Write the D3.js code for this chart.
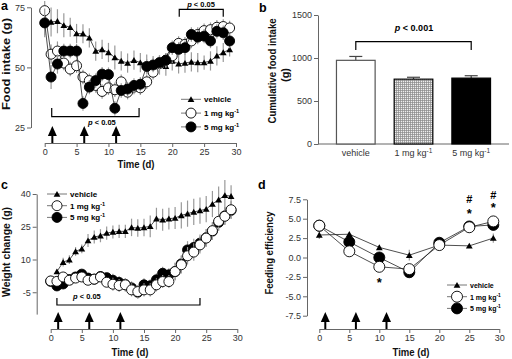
<!DOCTYPE html>
<html><head><meta charset="utf-8">
<script src="https://cdn.jsdelivr.net/npm/d3@7"></script>
<style>body{margin:0;background:#fff} svg{display:block} text{font-family:"Liberation Sans",Arial,sans-serif}</style>
</head><body><svg id="chart" width="512" height="359"></svg>
<script>
// ---------- DATA ----------
const days = [0,1,2,3,4,5,6,7,8,9,10,11,12,13,14,15,16,17,18,19,20,21,22,23,24,25,26,27,28,29];
const days1 = [1,2,3,4,5,6,7,8,9,10,11,12,13,14,15,16,17,18,19,20,21,22,23,24,25,26,27,28,29];
const dosingDays = [1.2, 6.2, 11.2];

// Panel a: food intake (g)
const aVehicle = [68.5,68.9,69.2,67.5,66.7,64.1,64,62.3,56.8,57.5,56.2,54.1,52.7,51.8,53,52,51.4,50.7,51,50.5,52.7,51.5,51.8,52.3,52,52,52.7,54.8,56.2,57.5];
const aVehicleErr = [5,6,5,5,4,4,4,4,4,4,4,5,4,4,4,4,4,4,4,4,4,4,4,4,4,3,4,4,4,3];
const a1mg = [73.6,55.5,56.8,51.8,49.3,50.7,46,44.5,42.5,40,41.5,40.7,44,39.7,41.8,41.5,44,48,51.6,53,54.8,60,59.6,61,63.7,65.3,65.7,66.7,67,66.4];
const a1mgErr = [4,4,4,3,3,3,3,3,3,3,3,3,3,3,3,3,3,3,3,3,3,3,3,3,3,3,3,3,3,3];
const a5mg = [68.5,46,51.4,56.8,56.8,56.8,35,41.8,44.5,47.2,47,33,40.4,41,42.5,43,50.4,51,52,53,58.2,57.5,58.2,63.7,62.6,63,61,65,64.4,61];
const a5mgErr = [6,5,4,3,3,3,3,3,3,3,3,3,3,3,3,3,3,3,3,3,3,3,3,3,3,3,3,3,3,3];

// Panel b: cumulative food intake (g)
const bCategories = ["vehicle","1 mg kg","5 mg kg"];
const bValues = [973, 754, 766];
const bErr = [45, 22, 28];

// Panel c: weight change (g)
const cVehicle = [4.5,8.8,9.9,13.7,14.9,18.7,20.3,20.9,22.1,22.6,22.9,22.9,24.7,24.4,24.7,25.2,28.7,28.2,28.7,29,30.2,31,31.8,32.4,33.1,35.4,37.4,39.4,39];
const cVehicleErr = [1,2,2,2,2,3,3,3,3,3,3,3,4,4,4,5,5,5,5,5,6,6,6,6,6,6,6,7,5];
const c1mg = [0.2,0,2,0.5,1.5,2,0.5,1,2,-0.4,-1.3,-1.9,-1.6,-3.9,-4.7,-3.9,-3.9,-1.6,-0.1,-0.1,4.5,7.6,11.7,13.4,16.7,19.8,23.2,27.5,29.8,32.8];
const c1mgErr = [1,1,2,2,2,2,2,2,2,2,3,3,3,3,3,3,3,3,3,3,4,4,4,4,4,4,4,4,4,4];
const c5mg = [0,-2.1,-1.2,0.8,2,3.3,1.5,1,2.2,1.7,0.5,-0.5,-1.5,-3,-5,-1.6,-2,0.7,3.7,3.0,4.5,8,14.4,15.5,17.5,20,23,27,30,32.5];
const c5mgErr = [1,1,2,2,2,2,2,2,2,2,3,3,3,3,3,3,3,3,3,3,4,4,4,4,4,4,4,4,4,4];

// Panel d: feeding efficiency
const dDays = [0,5,10,15,20,25,29];
const dVehicle = [2.9,3.0,1.3,0.3,1.6,1.5,2.5];
const dVehicleErr = [0.5,0.3,0.3,0.7,0.3,0.2,0.6];
const d1mg = [4.1,0.8,-1.2,-1.5,1.6,3.9,4.65];
const d1mgErr = [0.4,0.5,0.5,0.6,0.4,0.5,0.4];
const d5mg = [4.1,2.0,0.0,-1.9,1.9,4.0,4.2];
const d5mgErr = [0.4,0.4,0.4,0.6,0.4,0.4,0.4];
const dDosingDays = [1, 6.1, 11.2];

const xTicks = [0,5,10,15,20,25,30];

// ---------- DRAW ----------
const svg = d3.select("#chart");
svg.append("rect").attr("width",512).attr("height",359).attr("fill","#fff");
const AX = "#666", TK = "#333";

const defs = svg.append("defs");
const pat = defs.append("pattern").attr("id","grid").attr("patternUnits","userSpaceOnUse").attr("width",2).attr("height",2);
pat.append("rect").attr("width",2).attr("height",2).attr("fill","#eee");
pat.append("path").attr("d","M0,0.5H2M0.5,0V2").attr("stroke","#888").attr("stroke-width",0.7);

function styleAxis(g){
  g.select(".domain").attr("stroke",AX).attr("stroke-width",1);
  g.selectAll(".tick line").attr("stroke",AX);
  g.selectAll(".tick text").attr("fill",TK).attr("font-size",9).attr("font-family","Liberation Sans, Arial, sans-serif");
}
function yAxis(scale, x, ticks, fmt){
  const g = svg.append("g").attr("transform",`translate(${x},0)`)
    .call(d3.axisLeft(scale).tickValues(ticks).tickFormat(fmt).tickSize(4).tickSizeOuter(0).tickPadding(2));
  styleAxis(g);
}
function xAxis(scale, y){
  const g = svg.append("g").attr("transform",`translate(0,${y})`)
    .call(d3.axisBottom(scale).tickValues(xTicks).tickFormat(d=>d).tickSize(4).tickSizeOuter(0).tickPadding(2));
  styleAxis(g);
}
function title(x, y, txt, len, rot, fs){
  const t = svg.append("text").attr("font-weight","bold").attr("font-size",fs||11.5).attr("text-anchor","middle").attr("fill","#111")
    .attr("textLength",len).attr("lengthAdjust","spacingAndGlyphs").text(txt);
  if (rot) t.attr("transform",`translate(${x},${y}) rotate(-90)`); else t.attr("x",x).attr("y",y);
  return t;
}
function letter(x,y,t){ svg.append("text").attr("x",x).attr("y",y).attr("font-weight","bold").attr("font-size",12.5).text(t); }
function arrows(xs, yBase, list){
  list.forEach(d=>{
    const x = xs(d);
    svg.append("line").attr("x1",x).attr("x2",x).attr("y1",yBase).attr("y2",yBase-9).attr("stroke","#000").attr("stroke-width",2);
    svg.append("path").attr("d",`M${x-4.5},${yBase-7}L${x},${yBase-17}L${x+4.5},${yBase-7}Z`).attr("fill","#000");
  });
}
const tri = d3.symbol().type(d3.symbolTriangle).size(20);
function series(xd, yd, ed, xs, ys, kind, r){
  const g = svg.append("g");
  const pts = xd.map((d,i)=>[d, yd[i], ed[i]]);
  g.selectAll("line.e").data(pts).join("line").attr("class","e")
    .attr("x1",p=>xs(p[0])).attr("x2",p=>xs(p[0])).attr("y1",p=>ys(p[1]-p[2])).attr("y2",p=>ys(p[1]+p[2]))
    .attr("stroke","#999").attr("stroke-width",1.2);
  g.append("path").attr("d", d3.line().x(p=>xs(p[0])).y(p=>ys(p[1]))(pts)).attr("fill","none").attr("stroke","#222").attr("stroke-width",0.8);
  if (kind==="tri"){
    g.selectAll("path.m").data(pts).join("path").attr("class","m").attr("d",tri)
      .attr("transform",p=>`translate(${xs(p[0])},${ys(p[1])+0.8})`).attr("fill","#000");
  } else {
    g.selectAll("circle").data(pts).join("circle").attr("cx",p=>xs(p[0])).attr("cy",p=>ys(p[1])).attr("r",r)
      .attr("fill",kind==="open"?"#fff":"#000").attr("stroke","#000").attr("stroke-width",0.9);
  }
}
function legend(x, y0, dy, fs, r){
  const rows = [["tri","vehicle",false],["open","1 mg kg",true],["filled","5 mg kg",true]];
  rows.forEach((row,i)=>{
    const y = y0 + i*dy;
    svg.append("line").attr("x1",x-10).attr("x2",x+10).attr("y1",y).attr("y2",y).attr("stroke","#777").attr("stroke-width",1);
    if (row[0]==="tri") svg.append("path").attr("d",tri).attr("transform",`translate(${x},${y+0.8})`);
    else svg.append("circle").attr("cx",x).attr("cy",y).attr("r",r).attr("fill",row[0]==="open"?"#fff":"#000").attr("stroke","#000").attr("stroke-width",0.9);
    const t = svg.append("text").attr("x",x+13).attr("y",y+3).attr("font-size",fs).attr("font-weight","bold").text(row[1]);
    if (row[2]) t.append("tspan").attr("dy",-3).attr("font-size",fs*0.7).text("-1");
  });
}
function pText(x, y, rest, fs, anchor){
  const t = svg.append("text").attr("x",x).attr("y",y).attr("font-size",fs).attr("font-weight","bold").attr("text-anchor",anchor||"start");
  t.append("tspan").attr("font-style","italic").text("p");
  t.append("tspan").text(rest);
}
function bracket(x1,x2,y,tipY){
  svg.append("path").attr("d",`M${x1},${tipY}V${y}H${x2}V${tipY}`).attr("fill","none").attr("stroke","#000").attr("stroke-width",1.2);
}

// ===== Panel a =====
const xA = d3.scaleLinear([0,30],[44.7,236]);
const yA = d3.scaleLinear([25,75],[127.5,7.3]);
yAxis(yA, 31, [25,50,75], d=>d);
xAxis(xA, 143);
arrows(xA, 143, dosingDays);
bracket(xA(1.1), xA(14.8), 116.7, 108);
pText(88, 125, " < 0.05", 7.5);
bracket(xA(21.1), xA(28), 9.3, 16.7);
pText(201, 7, " < 0.05", 7.5, "middle");
series(days, aVehicle, aVehicleErr, xA, yA, "tri");
series(days, a1mg, a1mgErr, xA, yA, "open", 5);
series(days, a5mg, a5mgErr, xA, yA, "filled", 5);
legend(191, 99.3, 13.8, 8, 5);
title(10, 64, "Food intake (g)", 92, true);
title(136, 168, "Time (d)", 37, false);
letter(1, 10, "a");

// ===== Panel b =====
const yB = d3.scaleLinear([0,1500],[144,15]);
const xB = d3.scaleBand().domain(bCategories).range([318,509]).paddingInner(0.33).paddingOuter(0.32);
yAxis(yB, 318, [0,500,1000,1500], d=>d);
svg.append("line").attr("x1",318).attr("x2",509).attr("y1",144).attr("y2",144).attr("stroke",AX);
const bFills = ["#fff","url(#grid)","#000"];
bCategories.forEach((c,i)=>{
  const x = xB(c), w = xB.bandwidth(), cx = x + w/2;
  svg.append("line").attr("x1",cx).attr("x2",cx).attr("y1",yB(bValues[i])).attr("y2",yB(bValues[i]+bErr[i])).attr("stroke","#444").attr("stroke-width",1.2);
  svg.append("line").attr("x1",cx-6.5).attr("x2",cx+6.5).attr("y1",yB(bValues[i]+bErr[i])).attr("y2",yB(bValues[i]+bErr[i])).attr("stroke","#444").attr("stroke-width",1.2);
  svg.append("rect").attr("x",x).attr("y",yB(bValues[i])).attr("width",w).attr("height",yB(0)-yB(bValues[i]))
    .attr("fill",bFills[i]).attr("stroke",i===0?"#555":"#000").attr("stroke-width",1.2);
  const t = svg.append("text").attr("x",cx).attr("y",156).attr("font-size",9).attr("text-anchor","middle").attr("fill",TK).text(c);
  if (i>0) t.append("tspan").attr("dy",-3).attr("font-size",6.5).text("-1");
});
bracket(xB(bCategories[0])+xB.bandwidth()/2, xB(bCategories[2])+xB.bandwidth()/2, 41.7, 50);
pText(414, 31, " < 0.001", 9, "middle");
title(276, 71, "Cumulative food intake", 105, true, 10);
title(289, 75, "(g)", 14, true, 10.5);
letter(259, 12, "b");

// ===== Panel c =====
const xC = d3.scaleLinear([0,30],[50.7,237.3]);
const yC = d3.scaleLinear([-15,40],[314.1,194]);
yAxis(yC, 36.7, [-5,10,25,40], d=>String(d));
xAxis(xC, 329);
arrows(xC, 329, dosingDays);
bracket(xC(1), xC(24), 305, 298);
pText(73, 298.5, " < 0.05", 7.5);
series(days1, cVehicle, cVehicleErr, xC, yC, "tri");
series(days, c5mg, c5mgErr, xC, yC, "filled", 5);
series(days, c1mg, c1mgErr, xC, yC, "open", 5);
legend(57, 194, 11.7, 8, 5);
title(10, 252, "Weight change (g)", 90, true);
title(130, 356, "Time (d)", 37, false);
letter(1, 189, "c");

// ===== Panel d =====
const xD = d3.scaleLinear([0,30],[319.3,499.3]);
const yD = d3.scaleLinear([-7.5,7.5],[315.7,199.3]);
yAxis(yD, 307, [-7.5,-5,-2.5,0,2.5,5,7.5], d=>d.toFixed(1));
xAxis(xD, 329);
arrows(xD, 329, dDosingDays);
series(dDays, dVehicle, dVehicleErr, xD, yD, "tri");
series(dDays, d5mg, d5mgErr, xD, yD, "filled", 5.5);
series(dDays, d1mg, d1mgErr, xD, yD, "open", 5.5);
legend(457, 285, 11.7, 7, 5.5);
[[10,"*",287],[25,"#",203],[25,"*",218],[29,"#",199],[29,"*",212]].forEach(a=>{
  svg.append("text").attr("x",xD(a[0])).attr("y",a[2]).attr("text-anchor","middle").attr("font-size",a[1]==="*"?13:11).attr("font-weight","bold").text(a[1]);
});
title(273, 253, "Feeding efficiency", 83, true);
title(411, 356, "Time (d)", 37, false);
letter(258, 189, "d");
</script></body></html>
